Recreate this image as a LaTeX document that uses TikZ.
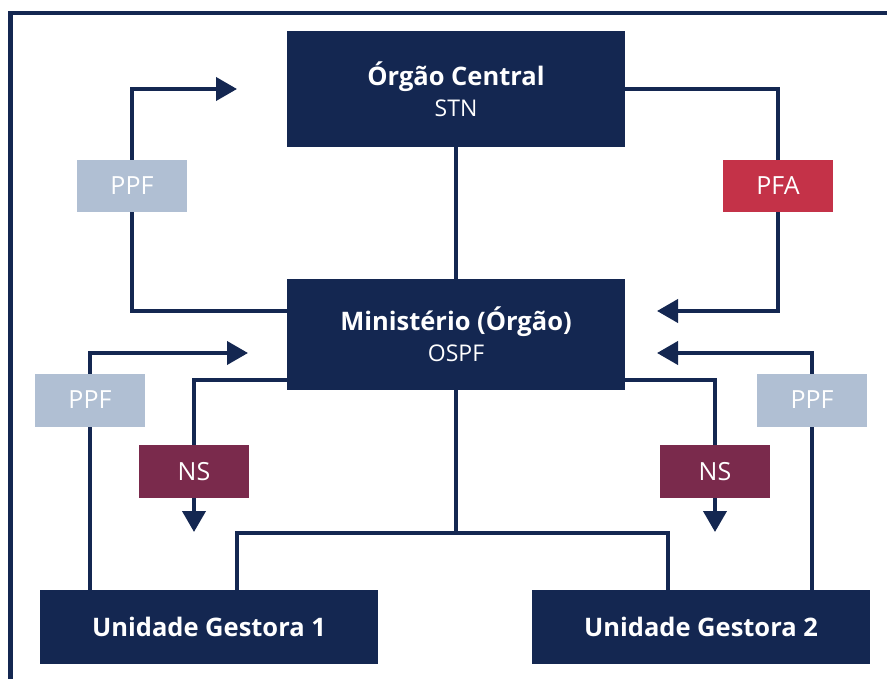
\documentclass[tikz,border=0pt]{standalone}
\usepackage{fontspec}
\setmainfont{Open Sans}
\usetikzlibrary{arrows.meta}
\definecolor{navy}{RGB}{20,39,81}
\definecolor{ppfc}{RGB}{176,191,211}
\definecolor{pfac}{RGB}{196,50,72}
\definecolor{nsc}{RGB}{122,42,76}
\newcommand{\bigb}[1]{{\fontsize{25.5}{30}\selectfont\bfseries #1}}
\newcommand{\smr}[1]{{\fontsize{23}{30}\selectfont #1}}
\begin{document}
\begin{tikzpicture}[x=1pt,y=-1pt,
  mainbox/.style={fill=navy,draw=none,text=white,minimum width=338pt,align=center,font=\fontsize{23}{30}\selectfont,inner sep=0pt},
  tagbox/.style={draw=none,text=white,minimum width=110pt,minimum height=52pt,font=\fontsize{25}{28}\selectfont,inner sep=0pt},
  conn/.style={draw=navy,line width=4pt},
  arr/.style={conn,-{Triangle[length=21pt,width=23pt]}}]
\useasboundingbox (0,0) rectangle (887,679);
\fill[white] (0,0) rectangle (887,679);
\draw[navy,line width=4.5pt] (10.5,679) -- (10.5,13) -- (887,13);
% main boxes
\node[mainbox,minimum height=116pt] (OC) at (456,89) {\raisebox{2pt}{\bigb{Órgão Central}}\\[-1pt]\smr{STN}};
\node[mainbox,minimum height=111pt] (MIN) at (456,334.5) {\raisebox{2pt}{\bigb{Ministério (Órgão)}}\\[-1pt]\smr{OSPF}};
\node[mainbox,minimum height=74pt] (UG1) at (209,627) {\bigb{Unidade Gestora 1}};
\node[mainbox,minimum height=74pt] (UG2) at (701,627) {\bigb{Unidade Gestora 2}};
% free arrow ends
\coordinate (t1) at (237,89);
\coordinate (t2) at (657,311);
\coordinate (t3) at (248,353);
\coordinate (t4) at (194,532);
\coordinate (t5) at (657,353);
\coordinate (t6) at (715,532);
\coordinate (j) at (456,533);
% label positions (nodes drawn later)
\coordinate (p1) at (132,186);
\coordinate (p2) at (778,186);
\coordinate (p3) at (90,400);
\coordinate (p4) at (194,471.5);
\coordinate (p5) at (812,400);
\coordinate (p6) at (715,471.5);
% tree
\draw[conn] (OC.south) -- (MIN.north);
\draw[conn] (MIN.south) -- (j);
\draw[conn] ([xshift=28pt]UG1.north) |- (j) -| ([xshift=-33pt]UG2.north);
% flows
\draw[arr] ([yshift=23.5pt]MIN.west) -| (p1) |- (t1);
\draw[arr] (OC.east) -| (p2) |- (t2);
\draw[arr] (p3 |- UG1.north) |- (t3);
\draw[arr] ([yshift=-45.5pt]MIN.west) -| (t4);
\draw[arr] (p5 |- UG2.north) |- (t5);
\draw[arr] ([yshift=-45.5pt]MIN.east) -| (t6);
% tags
\node[tagbox,fill=ppfc] (PPF1) at (p1) {PPF};
\node[tagbox,fill=pfac] (PFA) at (p2) {PFA};
\node[tagbox,fill=ppfc,minimum height=53pt] (PPF2) at (p3) {PPF};
\node[tagbox,fill=nsc,minimum height=53pt] (NS1) at (p4) {NS};
\node[tagbox,fill=ppfc,minimum height=53pt] (PPF3) at (p5) {PPF};
\node[tagbox,fill=nsc,minimum height=53pt] (NS2) at (p6) {NS};
\end{tikzpicture}
\end{document}
